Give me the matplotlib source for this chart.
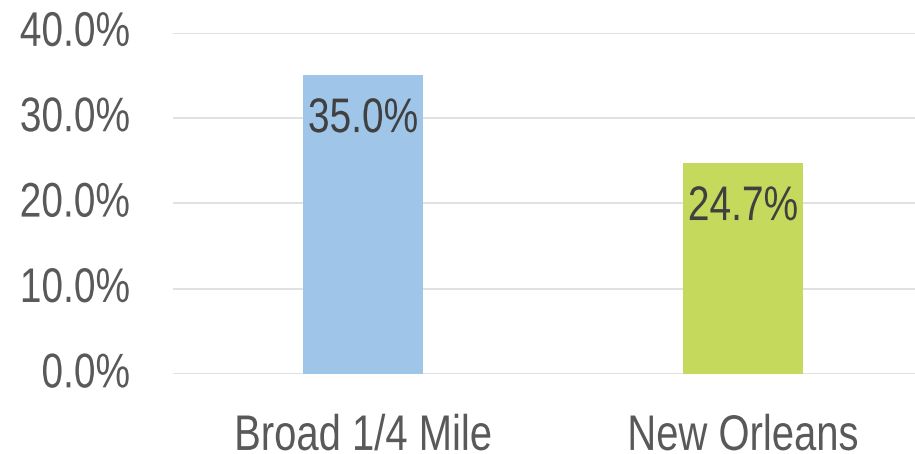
import matplotlib.pyplot as plt
from matplotlib.patheffects import AbstractPathEffect
from matplotlib.ticker import FuncFormatter
from matplotlib.transforms import Affine2D

categories = ["Broad 1/4 Mile", "New Orleans"]
shares = [35.0, 24.7]
bar_colors = ["#9fc5e8", "#c5d95c"]
y_ticks = [0, 10, 20, 30, 40]

plt.rcParams["font.family"] = ["Liberation Sans", "DejaVu Sans"]
TICK_COLOR = "#595959"
LABEL_COLOR = "#404040"
STRETCH = 1.25  # vertical stretch, gives a narrow-face look at the same width


class Tall(AbstractPathEffect):
    """Stretch glyphs vertically about their own ink centre."""

    def __init__(self, sy=STRETCH):
        super().__init__()
        self.sy = sy

    def draw_path(self, renderer, gc, tpath, affine, rgbFace=None):
        ext = tpath.get_extents()
        cy = (ext.y0 + ext.y1) / 2
        stretch = Affine2D().translate(0, -cy).scale(1, self.sy).translate(0, cy)
        renderer.draw_path(gc, tpath, stretch + affine, rgbFace)


fig = plt.figure(figsize=(9.15, 4.54), dpi=100)
ax = fig.add_axes([173 / 915, 1 - 374 / 454, 742 / 915, (374 - 32.5) / 454])

xs = list(range(len(categories)))
ax.bar(xs, shares, width=120 / 380, color=bar_colors, zorder=3)

for x, v in zip(xs, shares):
    ax.annotate(f"{v:.1f}%", (x, v), xytext=(0, -18.4), textcoords="offset points",
                ha="center", va="top", fontsize=28, color=LABEL_COLOR, zorder=4,
                path_effects=[Tall()])

ax.set_xlim(-0.5, (915 - 363) / 380)
ax.set_ylim(0, 40)
ax.set_yticks(y_ticks)
ax.yaxis.set_major_formatter(FuncFormatter(lambda v, _: f"{v:.1f}%"))
ax.set_xticks(xs)
ax.set_xticklabels(categories)

ax.grid(axis="y", color="#d9d9d9", lw=1.1, zorder=0)
for s in ax.spines.values():
    s.set_visible(False)
ax.tick_params(axis="both", length=0, labelcolor=TICK_COLOR)
ax.tick_params(axis="y", pad=31, labelsize=28)
ax.tick_params(axis="x", pad=30.5, labelsize=28.8)

for lab in ax.get_yticklabels() + ax.get_xticklabels():
    lab.set_path_effects([Tall()])
for lab in ax.get_yticklabels():
    lab.set_verticalalignment("center")

fig.savefig("out.png", dpi=100)
